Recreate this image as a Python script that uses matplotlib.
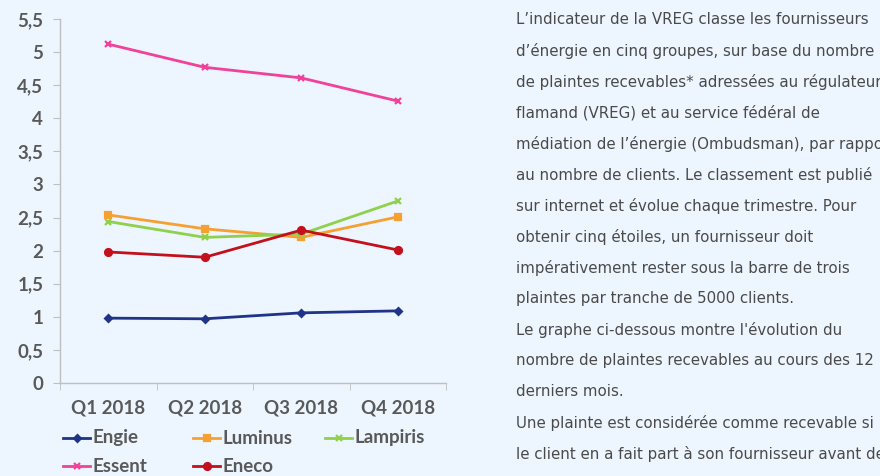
import matplotlib.pyplot as plt
from matplotlib.lines import Line2D

# data
quarters = ['Q1 2018', 'Q2 2018', 'Q3 2018', 'Q4 2018']
engie = [0.98, 0.97, 1.06, 1.09]
luminus = [2.54, 2.33, 2.20, 2.51]
lampiris = [2.44, 2.20, 2.25, 2.75]
essent = [5.12, 4.77, 4.61, 4.26]
eneco = [1.98, 1.90, 2.31, 2.01]

names = ['Engie', 'Luminus', 'Lampiris', 'Essent', 'Eneco']
series = [engie, luminus, lampiris, essent, eneco]
colors = ['#1f3486', '#f7a032', '#8fd14a', '#f0419b', '#c3101c']
markers = ['D', 's', 'x', 'x', 'o']
msizes = [3.5, 4.5, 5, 5, 5]

y_ticks = [0, 0.5, 1, 1.5, 2, 2.5, 3, 3.5, 4, 4.5, 5, 5.5]
y_labels = ['0', '0,5', '1', '1,5', '2', '2,5', '3', '3,5', '4', '4,5', '5', '5,5']

paragraph = [
    "L\u2019indicateur de la VREG classe les fournisseurs",
    "d\u2019\u00e9nergie en cinq groupes, sur base du nombre",
    "de plaintes recevables* adress\u00e9es au r\u00e9gulateur",
    "flamand (VREG) et au service f\u00e9d\u00e9ral de",
    "m\u00e9diation de l\u2019\u00e9nergie (Ombudsman), par rapport",
    "au nombre de clients. Le classement est publi\u00e9",
    "sur internet et \u00e9volue chaque trimestre. Pour",
    "obtenir cinq \u00e9toiles, un fournisseur doit",
    "imp\u00e9rativement rester sous la barre de trois",
    "plaintes par tranche de 5000 clients.",
    "Le graphe ci-dessous montre l'\u00e9volution du",
    "nombre de plaintes recevables au cours des 12",
    "derniers mois.",
    "Une plainte est consid\u00e9r\u00e9e comme recevable si",
    "le client en a fait part \u00e0 son fournisseur avant de",
]

bg = '#edf5fe'
gray = '#595959'
W, H = 880, 476

fig = plt.figure(figsize=(8.8, 4.76), dpi=100, facecolor=bg)
ax = fig.add_axes([60 / W, 1 - 383 / H, 386 / W, (383 - 19) / H], facecolor=bg)

x = range(len(quarters))
for vals, name, c, m, ms in zip(series, names, colors, markers, msizes):
    ax.plot(x, vals, color=c, lw=2.0, marker=m, ms=ms, mew=1.6, label=name)

ax.set_xlim(-0.5, 3.5)
ax.set_ylim(0, 5.5)
ax.set_yticks(y_ticks)
ax.set_yticklabels(y_labels)
ax.set_xticks(list(x))
ax.set_xticklabels(quarters)
ax.set_xticks([-0.5, 0.5, 1.5, 2.5, 3.5], minor=True)
ax.tick_params(axis='x', which='major', length=0, pad=12)
ax.tick_params(axis='x', which='minor', length=5, color='#bfbfbf')
ax.tick_params(axis='y', length=5, color='#bfbfbf', pad=7)
for lab in ax.get_xticklabels() + ax.get_yticklabels():
    lab.set_fontfamily('Lato')
    lab.set_fontweight('bold')
    lab.set_fontsize(13.5)
    lab.set_color(gray)
for s in ['top', 'right']:
    ax.spines[s].set_visible(False)
for s in ['left', 'bottom']:
    ax.spines[s].set_color('#bfbfbf')
    ax.spines[s].set_linewidth(1)

# legend drawn by hand, Excel style (even columns)
cols_x = [63, 193, 325]
rows_y = [438, 466]
for i, (name, c, m, ms) in enumerate(zip(names, colors, markers, msizes)):
    px = cols_x[i % 3]
    py = rows_y[i // 3]
    fy = 1 - py / H
    fig.add_artist(Line2D([px / W, (px + 27) / W], [fy, fy], color=c, lw=2.0,
                          transform=fig.transFigure))
    fig.add_artist(Line2D([(px + 13.5) / W], [fy], color=c, marker=m, ms=ms,
                          mew=1.6, transform=fig.transFigure))
    fig.text((px + 29) / W, fy, name, fontsize=13.5, fontweight='bold', family='Lato',
             color=gray, va='center', ha='left')

# paragraph on the right
for k, line in enumerate(paragraph):
    fig.text(516 / W, 1 - (20 + 31 * k) / H, line, fontsize=10.8, family='DejaVu Sans',
             color='#4a4a4a', va='center', ha='left')

fig.savefig('out.png', dpi=100, facecolor=bg)
